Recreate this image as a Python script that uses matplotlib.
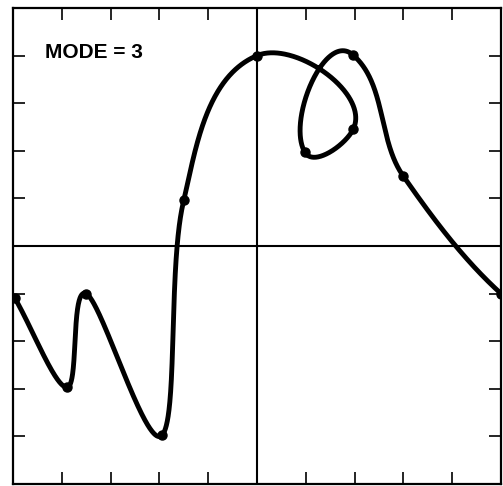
import numpy as np
import matplotlib
matplotlib.use("Agg")
import matplotlib.pyplot as plt

# Data points (axis units), in drawing order
px = [-4.96, -3.89, -3.50, -1.95, -1.50, 0.00, 1.97, 0.98, 1.96, 2.99, 5.00]
py = [-1.10, -2.97, -1.00, -3.98, 0.96, 4.00, 2.45, 1.97, 4.02, 1.48, -1.00]
tick_vals = [-4, -3, -2, -1, 0, 1, 2, 3, 4]
label_text = "MODE = 3"
# segments 0..3 use neighbour-difference tangents, the rest Akima-style tangents
local_segments = 4
# knots whose tangent direction follows the neighbour difference
cr_dir_knots = [5]


def akima_dirs(P):
    d = np.diff(P, axis=0)
    u = d / np.linalg.norm(d, axis=1)[:, None]
    um1 = 2 * u[0] - u[1]
    um2 = 2 * um1 - u[0]
    up1 = 2 * u[-1] - u[-2]
    up2 = 2 * up1 - u[-1]
    U = np.vstack([um2, um1, u, up1, up2])
    cross = lambda a, b: abs(a[0] * b[1] - a[1] * b[0])
    T = []
    for i in range(len(P)):
        m2, m1, p0, p1 = U[i], U[i + 1], U[i + 2], U[i + 3]
        w2 = cross(p0, p1)
        w3 = cross(m2, m1)
        v = m1 + p0 if w2 + w3 < 1e-12 else w2 * m1 + w3 * p0
        T.append(v / np.linalg.norm(v))
    return np.array(T)


def smooth_curve(P, n=200):
    P = np.asarray(P, float)
    ext = np.vstack([2 * P[0] - P[1], P, 2 * P[-1] - P[-2]])
    cr = (ext[2:] - ext[:-2]) / 2
    ak = akima_dirs(P)
    for k in cr_dir_knots:
        ak[k] = cr[k] / np.linalg.norm(cr[k])
    s = np.linspace(0, 1, n)[:, None]
    h00 = 2 * s ** 3 - 3 * s ** 2 + 1
    h10 = s ** 3 - 2 * s ** 2 + s
    h01 = -2 * s ** 3 + 3 * s ** 2
    h11 = s ** 3 - s ** 2
    out = []
    for i in range(len(P) - 1):
        if i < local_segments:
            t0, t1 = cr[i], cr[i + 1]
        else:
            r = np.linalg.norm(P[i + 1] - P[i])
            t0, t1 = r * ak[i], r * ak[i + 1]
        out.append(h00 * P[i] + h10 * t0 + h01 * P[i + 1] + h11 * t1)
    return np.vstack(out)


P = np.column_stack([px, py])
curve = smooth_curve(P)

fig = plt.figure(figsize=(5.03, 4.86), dpi=100)
ax = fig.add_axes([13 / 503, 2 / 486, 488 / 503, 476 / 486])
ax.set_xlim(-5, 5)
ax.set_ylim(-5, 5)

ax.axhline(0, color="black", lw=1.5)
ax.axvline(0, color="black", lw=1.5)
ax.plot(curve[:, 0], curve[:, 1], color="black", lw=3.5, solid_capstyle="round",
        solid_joinstyle="round")
ax.plot(px, py, "o", color="black", ms=6.5)

ax.set_xticks(tick_vals)
ax.set_yticks(tick_vals)
ax.tick_params(direction="in", length=8.5, width=1.2, top=True, right=True,
               labelbottom=False, labelleft=False)
for s in ax.spines.values():
    s.set_linewidth(1.6)

ax.text(0.0656, 0.906, label_text, transform=ax.transAxes,
        fontsize=15, fontweight="bold", family=["Liberation Sans", "DejaVu Sans"],
        va="center", ha="left")

fig.savefig("out.png", dpi=100)
